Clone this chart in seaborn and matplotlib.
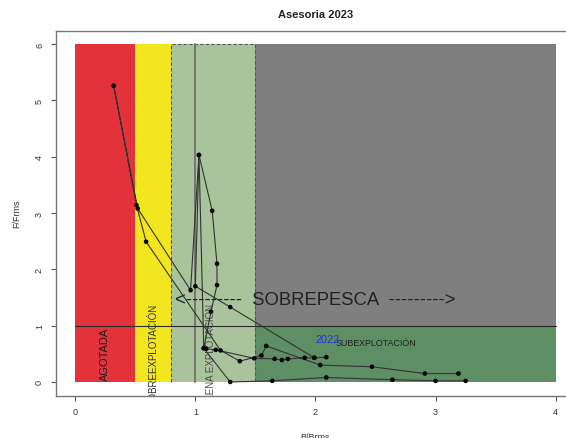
import numpy as np
import pandas as pd
import matplotlib
matplotlib.use("Agg")
import matplotlib.pyplot as plt
from matplotlib.patches import Rectangle
import seaborn as sns

# ─────────────────────────────────────────────
# DATA
# ─────────────────────────────────────────────
# series A : starts high biomass (upper chain), ends at 2022
serie_a_b = [3.19, 2.91, 2.47, 2.04, 1.59, 1.55, 1.37, 1.21, 0.59, 0.51, 0.32, 0.52,
             0.96, 1.03, 1.14, 1.18, 1.18, 1.13, 1.07, 1.09, 1.17, 1.49, 1.66, 1.72,
             1.77, 1.91, 1.99, 2.09]
serie_a_f = [0.15, 0.15, 0.27, 0.30, 0.64, 0.47, 0.37, 0.56, 2.49, 3.14, 5.26, 3.08,
             1.63, 4.03, 3.04, 2.10, 1.72, 1.25, 0.60, 0.59, 0.57, 0.42, 0.41, 0.39,
             0.41, 0.43, 0.43, 0.44]
# series B : lower chain
serie_b_b = [3.25, 3.00, 2.64, 2.09, 1.64, 1.29, 1.07, 1.03, 1.00, 1.29, 1.99]
serie_b_f = [0.02, 0.02, 0.04, 0.08, 0.02, 0.00, 0.60, 4.03, 1.70, 1.33, 0.43]

ULTIMO_ANO = "2022"

# zones: (b0, b1, f0, f1, colour)
ZONAS = [
    (1.5, 4.0, 1.0, 6.0, "#7f7f7f"),   # sobrepesca
    (1.5, 4.0, 0.0, 1.0, "#5e8e64"),   # subexplotacion
    (0.0, 0.5, 0.0, 6.0, "#e3323a"),   # agotada
    (0.5, 0.8, 0.0, 6.0, "#f2e71f"),   # sobreexplotacion
    (0.8, 1.5, 0.0, 6.0, "#a9c49c"),   # plena explotacion
]
X_TICKS = [0, 1, 2, 3, 4]
Y_TICKS = [0, 1, 2, 3, 4, 5, 6]
# ─────────────────────────────────────────────

sns.set_theme(style="white")
plt.rcParams["font.family"] = ["Liberation Sans", "DejaVu Sans"]

fig = plt.figure(figsize=(5.66, 4.39), dpi=100)
ax = fig.add_axes([56 / 566, 42.5 / 439, 519 / 566, 365 / 439])

for b0, b1, f0, f1, col in ZONAS:
    ax.add_patch(Rectangle((b0, f0), b1 - b0, f1 - f0, facecolor=col,
                           edgecolor="none", zorder=1))

# dashed border of the plena explotacion zone
ax.plot([0.8, 0.8, 1.5, 1.5], [0, 6, 6, 0], color="#555555", ls=(0, (3, 2)),
        lw=0.8, zorder=2)
ax.plot([1, 1], [0, 6], color="#6f6f6f", lw=1.3, zorder=2)
ax.plot([0, 4], [1, 1], color="#2a2a2a", lw=0.8, zorder=2)

# zone labels
ax.text(0.25, 0.5, "AGOTADA", rotation=90, ha="center", va="center",
        fontsize=8, color="#1a1a1a", zorder=3, clip_on=True)
ax.text(0.65, 0.5, "SOBREEXPLOTACIÓN", rotation=90, ha="center", va="center",
        fontsize=7, color="#333333", zorder=3, clip_on=True)
ax.text(1.13, 0.5, "PLENA EXPLOTACIÓN", rotation=90, ha="center", va="center",
        fontsize=7, color="#4a4a4a", zorder=3, clip_on=True)
ax.text(2.5, 0.70, "SUBEXPLOTACIÓN", ha="center", va="center",
        fontsize=6.4, color="#1f1f1f", zorder=3)
ax.text(2.0, 1.47, "<---------  SOBREPESCA  --------->", ha="center",
        va="center", fontsize=13.3, color="#222222", zorder=3)

# trajectories
for bx, fy in [(serie_a_b, serie_a_f), (serie_b_b, serie_b_f)]:
    df = pd.DataFrame({"b": bx, "f": fy})
    sns.lineplot(data=df, x="b", y="f", sort=False, estimator=None,
                 color="#333333", lw=0.8, ax=ax, zorder=4)
    sns.scatterplot(data=df, x="b", y="f", color="black", s=11,
                    edgecolor="none", ax=ax, zorder=5)

ax.text(serie_a_b[-1] + 0.01, serie_a_f[-1] + 0.33, ULTIMO_ANO, ha="center",
        va="center", fontsize=7.9, color="#2234d8", zorder=6)

ax.set_xlim(-0.16, 4.16)
ax.set_ylim(-0.24, 6.24)
ax.set_xticks(X_TICKS)
ax.set_yticks(Y_TICKS)
ax.tick_params(axis="both", which="major", bottom=True, left=True, length=3.6,
               width=0.8, color="#555555", labelsize=6.5, labelcolor="#333333")
ax.tick_params(axis="x", pad=5)
ax.tick_params(axis="y", pad=5, labelrotation=90)
for lab in ax.get_yticklabels():
    lab.set_va("center")

for side in ["left", "top", "bottom", "right"]:
    ax.spines[side].set_color("#777777")
    ax.spines[side].set_linewidth(1.0)

ax.set_xlabel("B/Brms", fontsize=6.5, color="#333333", labelpad=11)
ax.set_ylabel("F/Frms", fontsize=6.5, color="#333333", labelpad=10)
ax.set_title("Asesoria 2023", fontsize=8, fontweight="bold", color="#222222",
             pad=10)

fig.savefig("out.png", dpi=100)
